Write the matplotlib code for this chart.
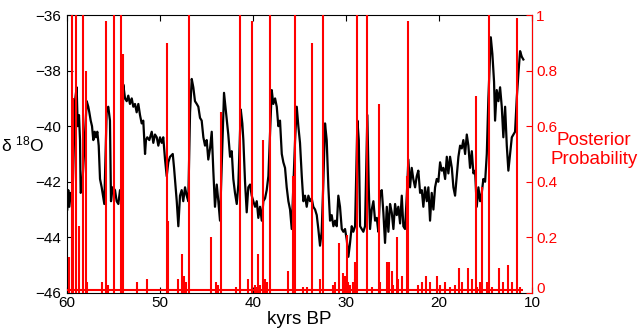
import matplotlib
matplotlib.use("Agg")
import matplotlib.pyplot as plt
import matplotlib.transforms as mtransforms

plt.rcParams['font.family'] = ['Liberation Sans', 'DejaVu Sans']
plt.rcParams['mathtext.fontset'] = 'custom'
plt.rcParams['mathtext.rm'] = 'Liberation Sans'
plt.rcParams['mathtext.it'] = 'Liberation Sans:italic'
plt.rcParams['mathtext.bf'] = 'Liberation Sans:bold'

# delta 18O record (kyrs BP, permil)
kyr = [59.97, 59.86, 59.75, 59.60, 59.41, 59.25, 59.14, 58.96, 58.85, 58.71,
       58.60, 58.53, 58.39, 58.17, 57.88, 57.71, 57.60, 57.45, 57.31, 57.17,
       57.02, 56.88, 56.74, 56.59, 56.45, 56.27, 56.13, 55.99, 55.73, 55.56,
       55.38, 55.27, 55.09, 54.84, 54.66, 54.48, 54.30, 54.14, 53.95, 53.76,
       53.58, 53.41, 53.23, 53.04, 52.87, 52.69, 52.51, 52.33, 52.15, 51.97,
       51.80, 51.61, 51.51, 51.37, 51.15, 50.89, 50.72, 50.54, 50.35, 50.18,
       50.00, 49.82, 49.65, 49.46, 49.28, 49.11, 48.92, 48.63, 48.49, 48.20,
       48.03, 47.85, 47.67, 47.50, 47.31, 47.13, 46.96, 46.77, 46.59, 46.42,
       46.24, 46.05, 45.88, 45.70, 45.52, 45.34, 45.16, 44.98, 44.81, 44.62,
       44.44, 44.27, 44.09, 43.90, 43.73, 43.55, 43.33, 43.12, 42.90, 42.66,
       42.47, 42.29, 42.12, 41.94, 41.75, 41.58, 41.32, 41.15, 41.04, 40.86,
       40.68, 40.51, 40.32, 40.14, 39.97, 39.78, 39.60, 39.43, 39.25, 39.06,
       38.89, 38.71, 38.53, 38.35, 38.17, 37.99, 37.82, 37.63, 37.45, 37.28,
       37.10, 36.91, 36.74, 36.56, 36.38, 36.20, 36.02, 35.84, 35.67, 35.48,
       35.30, 35.13, 34.95, 34.76, 34.59, 34.41, 34.23, 34.05, 33.87, 33.69,
       33.52, 33.33, 33.15, 32.98, 32.80, 32.62, 32.44, 32.26, 32.08, 31.90,
       31.72, 31.54, 31.36, 31.18, 31.00, 30.83, 30.65, 30.46, 30.29, 30.11,
       29.92, 29.75, 29.57, 29.39, 29.22, 29.03, 28.92, 28.78, 28.63, 28.49,
       28.31, 28.14, 27.96, 27.71, 27.56, 27.42, 27.24, 27.06, 26.88, 26.70,
       26.53, 26.34, 26.16, 25.99, 25.81, 25.62, 25.45, 25.27, 25.09, 24.91,
       24.73, 24.55, 24.38, 24.19, 24.01, 23.84, 23.66, 23.47, 23.30, 23.12,
       22.94, 22.77, 22.58, 22.40, 22.23, 22.04, 21.86, 21.69, 21.51, 21.32,
       21.15, 20.97, 20.79, 20.61, 20.43, 20.25, 20.08, 19.89, 19.71, 19.54,
       19.35, 19.17, 19.00, 18.82, 18.63, 18.46, 18.28, 18.10, 17.92, 17.74,
       17.56, 17.39, 17.20, 17.02, 16.85, 16.67, 16.48, 16.31, 16.13, 15.95,
       15.77, 15.59, 15.41, 15.24, 15.05, 14.87, 14.70, 14.44, 14.27, 14.09,
       13.98, 13.80, 13.62, 13.44, 13.26, 13.09, 12.90, 12.72, 12.55, 12.37,
       12.18, 12.01, 11.83, 11.65, 11.47, 11.29, 11.11, 10.94]
d18o = [-43.0, -42.3, -42.9, -42.4, -42.6, -40.5, -39.1, -38.6, -40.0, -39.6,
        -40.5, -42.4, -42.3, -41.0, -39.1, -39.3, -39.5, -39.8, -40.0, -40.5,
        -40.2, -40.4, -40.2, -40.7, -41.9, -42.2, -42.5, -42.8, -39.4, -39.3,
        -39.8, -42.7, -42.2, -42.3, -42.7, -42.8, -42.3, -42.7, -38.5, -39.0,
        -39.1, -38.9, -39.2, -39.0, -39.3, -39.2, -39.5, -39.2, -39.6, -39.9,
        -39.8, -41.0, -40.5, -40.4, -40.5, -40.2, -40.6, -40.3, -40.4, -40.7,
        -40.4, -40.6, -40.4, -41.2, -41.8, -41.3, -41.1, -41.0, -41.5, -42.7,
        -43.6, -42.5, -42.3, -42.7, -42.2, -42.5, -42.7, -39.5, -38.3, -38.6,
        -39.1, -39.2, -39.3, -39.7, -39.8, -40.4, -40.7, -40.5, -41.2, -40.8,
        -40.2, -41.6, -42.9, -42.1, -42.7, -43.4, -41.0, -38.8, -39.5, -40.3,
        -41.1, -40.9, -41.9, -42.4, -42.8, -42.1, -39.4, -39.9, -40.5, -42.0,
        -43.1, -42.2, -42.1, -42.5, -42.7, -42.9, -42.7, -43.3, -42.9, -43.4,
        -42.7, -42.6, -42.3, -41.8, -40.2, -38.7, -39.2, -39.0, -39.3, -40.0,
        -39.8, -41.0, -41.3, -41.5, -42.2, -42.7, -43.0, -43.7, -42.2, -40.5,
        -39.3, -40.0, -40.6, -41.8, -42.7, -42.5, -42.9, -42.5, -42.7, -42.6,
        -42.9, -43.0, -43.2, -43.7, -44.3, -43.8, -42.0, -39.9, -40.5, -42.2,
        -43.4, -43.2, -43.6, -43.4, -43.6, -42.5, -42.9, -43.7, -43.8, -43.7,
        -44.1, -44.7, -44.2, -43.6, -43.8, -43.6, -42.0, -39.8, -40.5, -43.6,
        -43.7, -43.8, -43.6, -39.6, -42.2, -43.7, -43.0, -42.7, -43.4, -43.3,
        -43.8, -42.4, -42.3, -43.1, -44.2, -42.9, -43.8, -42.8, -43.1, -43.7,
        -42.8, -43.2, -42.9, -43.5, -42.5, -43.6, -43.7, -42.5, -41.2, -42.2,
        -41.5, -41.9, -42.2, -41.8, -41.6, -42.4, -42.3, -42.9, -42.2, -42.7,
        -42.2, -43.4, -42.4, -43.0, -42.2, -41.9, -42.0, -41.3, -41.6, -41.5,
        -41.9, -41.1, -41.7, -41.1, -41.5, -42.2, -42.5, -41.8, -41.1, -40.7,
        -40.8, -40.5, -41.0, -40.3, -40.7, -41.5, -40.9, -41.7, -41.6, -42.9,
        -42.2, -42.7, -42.4, -41.9, -42.0, -41.0, -39.0, -36.8, -37.4, -38.4,
        -39.8, -38.7, -39.1, -38.6, -39.3, -40.4, -39.3, -40.7, -41.6, -41.0,
        -40.4, -40.3, -40.2, -39.0, -38.1, -37.3, -37.5, -37.6]

# posterior probability of a change point
spike_kyr = [59.80, 59.43, 59.32, 59.06, 58.71, 58.25, 57.99, 55.84, 54.98, 54.17,
             53.95, 49.27, 49.14, 47.63, 46.83, 44.52, 43.39, 41.40, 40.14, 39.43,
             38.96, 38.17, 36.20, 35.73, 35.48, 33.71, 32.45, 30.81, 29.95, 29.00,
             28.82, 27.74, 26.45, 24.57, 23.44, 23.30, 16.02, 15.38, 14.62, 11.61,
             57.82, 56.20, 55.59, 52.44, 51.37, 48.03, 47.42, 47.20, 43.98, 43.76,
             41.86, 40.57, 39.78, 39.60, 39.25, 38.71, 38.53, 34.59, 34.23, 32.80,
             31.37, 31.18, 30.32, 30.11, 29.75, 29.57, 29.22, 29.03, 27.20, 26.34,
             25.62, 25.35, 25.09, 24.91, 24.38, 23.98, 22.23, 21.86, 21.40, 20.97,
             20.25, 19.89, 19.35, 18.82, 18.28, 17.85, 17.56, 16.91, 16.48, 15.89,
             15.59, 14.87, 14.34, 13.53, 13.10, 12.55, 12.19, 11.29]
spike_prob = [0.13, 1.00, 0.70, 1.00, 0.24, 1.00, 0.80, 0.98, 1.00, 1.00,
              0.86, 0.90, 0.26, 0.14, 1.00, 0.20, 0.65, 1.00, 0.98, 0.14,
              0.55, 1.00, 0.08, 0.42, 1.00, 0.90, 1.00, 0.18, 0.21, 0.11,
              1.00, 1.00, 0.68, 0.20, 0.42, 0.98, 0.71, 0.38, 1.00, 0.99,
              0.04, 0.04, 0.03, 0.04, 0.05, 0.05, 0.06, 0.04, 0.04, 0.03,
              0.02, 0.05, 0.03, 0.02, 0.03, 0.05, 0.04, 0.02, 0.02, 0.05,
              0.03, 0.04, 0.07, 0.06, 0.04, 0.03, 0.04, 0.05, 0.02, 0.04,
              0.11, 0.11, 0.08, 0.03, 0.05, 0.06, 0.03, 0.04, 0.06, 0.04,
              0.06, 0.03, 0.04, 0.02, 0.03, 0.09, 0.04, 0.09, 0.05, 0.02,
              0.04, 0.04, 0.02, 0.09, 0.04, 0.10, 0.04, 0.02]
floor_prob = 0.01

fig = plt.figure(figsize=(6.38, 3.34), dpi=100)
ax = fig.add_axes([0.105, 0.123, 0.729, 0.832])
ax2 = ax.twinx()

ax.plot(kyr, d18o, color='black', lw=1.6)
ax2.vlines(spike_kyr, 0, spike_prob, color='red', lw=1.5)
ax2.hlines(floor_prob, kyr[0], kyr[-1], color='red', lw=1.5)

ax.set_xlim(60, 10)
ax.set_ylim(-46, -36)
ax.set_xticks([60, 50, 40, 30, 20, 10])
ax.set_yticks([-46, -44, -42, -40, -38, -36])
ax2.set_ylim(0, 1)
ax2.set_yticks([0, 0.2, 0.4, 0.6, 0.8, 1])
ax2.set_yticklabels(['0', '0.2', '0.4', '0.6', '0.8', '1'])

ax.tick_params(direction='in', length=4, labelsize=11, top=True, pad=2)
ax.tick_params(axis='y', pad=4)
ax2.tick_params(direction='in', length=4, labelsize=11, colors='red', pad=3)
for s in ['left', 'top', 'bottom']:
    ax2.spines[s].set_visible(False)
ax2.spines['right'].set_color('red')

# nudge the right-hand "0" up so it clears the "10" below it
lab0 = ax2.get_yticklabels()[0]
lab0.set_transform(lab0.get_transform() +
                   mtransforms.ScaledTranslation(0, 4 / 72, fig.dpi_scale_trans))

ax.set_xlabel('kyrs BP', fontsize=13.5, labelpad=1)
ax.set_ylabel('δ $^{18}$O', fontsize=12.5, rotation=0, ha='right', va='center')
ax.yaxis.set_label_coords(-0.048, 0.533)
ax2.set_ylabel('Posterior\nProbability', fontsize=13.5, rotation=0,
               color='red', ha='center', va='center')
ax2.yaxis.set_label_coords(1.133, 0.514)

fig.savefig('out.png', dpi=100)
